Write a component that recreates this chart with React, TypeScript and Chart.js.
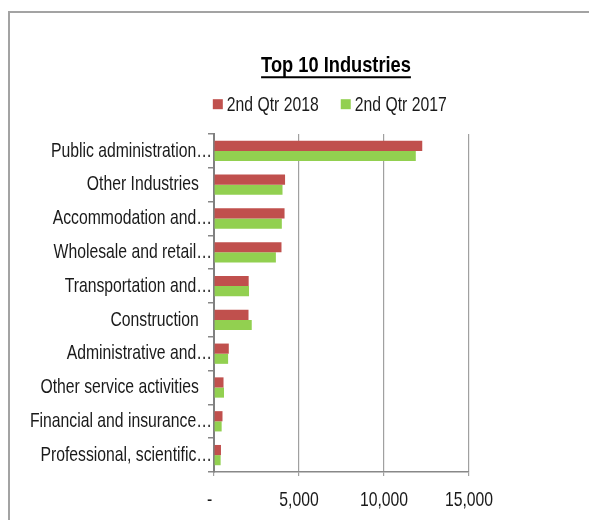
import React, { useEffect, useRef } from "react";
import { Chart, registerables } from "chart.js";

Chart.register(...registerables);

const categories = [
  "Public administration…",
  "Other Industries",
  "Accommodation and…",
  "Wholesale and retail…",
  "Transportation and…",
  "Construction",
  "Administrative and…",
  "Other service activities",
  "Financial and insurance…",
  "Professional, scientific…",
];
const q2_2018 = [12250, 4180, 4150, 3970, 2040, 2030, 870, 560, 500, 410];
const q2_2017 = [11870, 4030, 3990, 3640, 2060, 2220, 830, 590, 450, 390];
const seriesNames = ["2nd Qtr 2018", "2nd Qtr 2017"];
const seriesColors = ["#C0504D", "#92D050"];
const xTicks = [0, 5000, 10000, 15000];
const titleText = "Top 10 Industries";

const FONT = "'Liberation Sans', Arial, sans-serif";
// horizontal compression to imitate a narrow typeface
const NARROW = 0.75;
const NARROW_BOLD = 0.83;

function condense(ctx: CanvasRenderingContext2D) {
  const measure = ctx.measureText.bind(ctx);
  const fill = ctx.fillText.bind(ctx);
  const k = () => (/bold|700/.test(ctx.font) ? NARROW_BOLD : NARROW);
  (ctx as any).measureText = (t: string) => {
    const m = measure(t);
    const f = k();
    return {
      width: m.width * f,
      actualBoundingBoxAscent: m.actualBoundingBoxAscent,
      actualBoundingBoxDescent: m.actualBoundingBoxDescent,
      actualBoundingBoxLeft: m.actualBoundingBoxLeft * f,
      actualBoundingBoxRight: m.actualBoundingBoxRight * f,
      fontBoundingBoxAscent: m.fontBoundingBoxAscent,
      fontBoundingBoxDescent: m.fontBoundingBoxDescent,
    };
  };
  (ctx as any).fillText = (t: string, x: number, y: number, mw?: number) => {
    const w = measure(t).width * k();
    let target = w;
    if (mw !== undefined && mw !== null && mw < target) target = mw;
    if (!(target > 0)) return fill(t, x, y);
    fill(t, x, y, target);
  };
}

const TITLE_PAD_TOP = 52.5;
const TITLE_SIZE = 22;
const TITLE_SHIFT = 40.5;
const LEGEND_SIZE = 21;
const LEGEND_PAD = 25.5;
const LEGEND_SHIFT = 36;
const LEGEND_BOX = 10;
const LEGEND_GAP = 4;

const decorPlugin = {
  id: "decor",
  afterLayout(chart: any) {
    const tb = chart.titleBlock;
    if (tb) {
      tb.left += TITLE_SHIFT;
      tb.right += TITLE_SHIFT;
    }
    const lg = chart.legend;
    if (lg) {
      lg.left += LEGEND_SHIFT;
      lg.right += LEGEND_SHIFT;
    }
  },
  afterDraw(chart: any) {
    const ctx = chart.ctx;
    // underline of the title
    const tb = chart.titleBlock;
    if (tb) {
      ctx.save();
      ctx.font = `bold ${TITLE_SIZE}px ${FONT}`;
      const w = ctx.measureText(titleText).width;
      const cx = tb.left + tb.width / 2;
      const y = tb.top + TITLE_PAD_TOP + (TITLE_SIZE * 1.2) / 2 + 11.5;
      ctx.strokeStyle = "#000";
      ctx.lineWidth = 2;
      ctx.beginPath();
      ctx.moveTo(cx - w / 2, y);
      ctx.lineTo(cx + w / 2, y);
      ctx.stroke();
      ctx.restore();
    }
    // legend swatches, placed close to their text
    const lg = chart.legend;
    if (lg && lg.legendHitBoxes) {
      ctx.save();
      lg.legendHitBoxes.forEach((hb: any, i: number) => {
        const textX = hb.left + LEGEND_SIZE / 2;
        const cy = hb.top + hb.height / 2 - 1;
        ctx.fillStyle = seriesColors[i];
        ctx.fillRect(textX - LEGEND_GAP - LEGEND_BOX, cy - LEGEND_BOX / 2, LEGEND_BOX, LEGEND_BOX);
      });
      ctx.restore();
    }
  },
};

export default function App() {
  const ref = useRef<HTMLCanvasElement | null>(null);
  useEffect(() => {
    if (!ref.current) return;
    const ctx = ref.current.getContext("2d") as CanvasRenderingContext2D;
    condense(ctx);
    const chart = new Chart(ctx, {
      type: "bar",
      data: {
        labels: categories,
        datasets: [
          {
            label: seriesNames[0],
            data: q2_2018,
            backgroundColor: seriesColors[0],
            categoryPercentage: 0.6,
            barPercentage: 1,
          },
          {
            label: seriesNames[1],
            data: q2_2017,
            backgroundColor: seriesColors[1],
            categoryPercentage: 0.6,
            barPercentage: 1,
          },
        ],
      },
      options: {
        indexAxis: "y",
        animation: false,
        responsive: false,
        maintainAspectRatio: false,
        layout: { padding: { left: 2, right: 0, top: 0, bottom: 0 } },
        plugins: {
          title: {
            display: true,
            text: titleText,
            color: "#000",
            font: { family: FONT, size: TITLE_SIZE, weight: "bold", lineHeight: 1.2 },
            padding: { top: TITLE_PAD_TOP, bottom: -9.7 },
          },
          legend: {
            display: true,
            position: "top",
            weight: 1800,
            labels: {
              boxWidth: 0,
              boxHeight: 0,
              color: "#1a1a1a",
              padding: LEGEND_PAD,
              font: { family: FONT, size: LEGEND_SIZE },
            },
          },
          subtitle: {
            display: true,
            text: " ",
            font: { size: 1, lineHeight: 1 },
            padding: { top: 3.6, bottom: 3.7 },
          },
          tooltip: { enabled: false },
        },
        scales: {
          x: {
            min: 0,
            max: 15000,
            afterBuildTicks: (scale: any) => {
              scale.ticks = xTicks.map((v) => ({ value: v }));
            },
            afterFit: (scale: any) => {
              scale.height = 48;
            },
            ticks: {
              color: "#1a1a1a",
              padding: 12,
              font: { family: FONT, size: 21 },
              callback: (v: any) => (Number(v) === 0 ? "-  " : Number(v).toLocaleString("en-US")),
            },
            grid: { color: "#a0a0a0", lineWidth: 1.2, tickLength: 4 },
            border: { color: "#888", width: 1.5 },
          },
          y: {
            afterFit: (scale: any) => {
              scale.width = 212;
            },
            ticks: {
              color: "#1a1a1a",
              padding: -4,
              font: { family: FONT, size: 21 },
              callback: (_v: any, i: number) => {
                const s = categories[i];
                return s.endsWith("…") ? s : s + "   ";
              },
            },
            grid: { drawOnChartArea: false, color: "#888", tickLength: 6, lineWidth: 1.5 },
            border: { color: "#808080", width: 2 },
          },
          yRightSpace: {
            type: "category",
            labels: categories,
            position: "right",
            display: true,
            afterFit: (scale: any) => {
              scale.width = 120;
            },
            ticks: { display: false },
            grid: { display: false, drawTicks: false },
            border: { display: false },
          },
        },
      },
      plugins: [decorPlugin],
    } as any);
    return () => chart.destroy();
  }, []);

  return (
    <div style={{ position: "absolute", left: 0, top: 0, width: 589, height: 520, overflow: "hidden", background: "#fff" }}>
      <div
        style={{
          position: "absolute",
          left: 8,
          top: 11,
          width: 640,
          height: 600,
          border: "2px solid #a3a3a3",
        }}
      />
      <canvas ref={ref} width={589} height={520} style={{ position: "absolute", left: 0, top: 0, width: 589, height: 520 }} />
    </div>
  );
}
